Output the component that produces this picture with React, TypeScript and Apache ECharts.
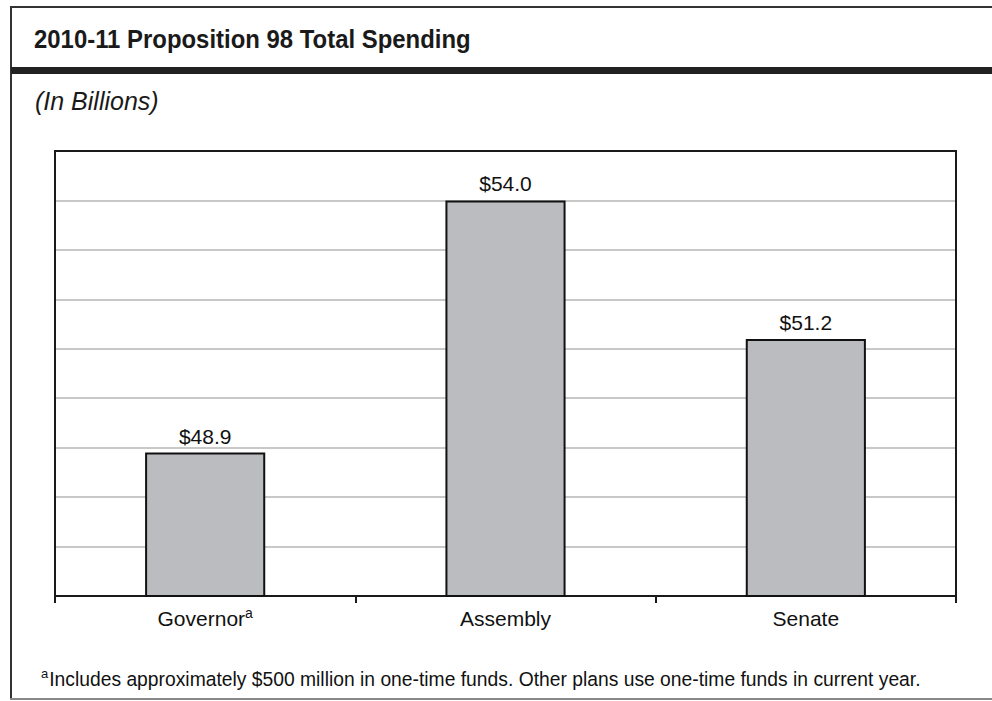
import React, { useEffect, useRef } from "react";
import * as echarts from "echarts";

const categories = ["Governor", "Assembly", "Senate"];
const superscripts = ["a", "", ""];
const values = [48.9, 54.0, 51.2];
const yMin = 46;
const yMax = 55;
const yInterval = 1;
const titleText = "2010-11 Proposition 98 Total Spending";
const subtitleText = "(In Billions)";
const footnoteMark = "a";
const footnoteText = "Includes approximately $500 million in one-time funds. Other plans use one-time funds in current year.";

const FONT = "'Liberation Sans', Arial, Helvetica, sans-serif";

export default function App() {
  const ref = useRef<HTMLDivElement>(null);
  useEffect(() => {
    if (!ref.current) return;
    const chart = echarts.init(ref.current, null, { renderer: "svg" });
    chart.setOption({
      animation: false,
      backgroundColor: "#ffffff",
      textStyle: { fontFamily: FONT },
      grid: {
        left: 55,
        right: 36,
        top: 151,
        bottom: 105,
        show: true,
        borderColor: "#1a1a1a",
        borderWidth: 2,
        backgroundColor: "transparent",
        z: 3,
      },
      xAxis: {
        type: "category",
        data: categories,
        axisLine: { lineStyle: { color: "#1a1a1a", width: 2 } },
        axisTick: { show: true, length: 7, lineStyle: { color: "#1a1a1a", width: 2 } },
        axisLabel: {
          margin: 10,
          color: "#111",
          fontSize: 21,
          fontFamily: FONT,
          formatter: (v: string) => {
            const i = categories.indexOf(v);
            const s = superscripts[i];
            return s ? `{n|${v}}{s|${s}}` : `{n|${v}}`;
          },
          rich: {
            n: { fontSize: 21, fontFamily: FONT, color: "#111", lineHeight: 23, verticalAlign: "bottom" },
            s: { fontSize: 14, fontFamily: FONT, color: "#111", lineHeight: 23, verticalAlign: "top", padding: [0, 0, 7, 0] },
          },
        },
      },
      yAxis: {
        type: "value",
        min: yMin,
        max: yMax,
        interval: yInterval,
        axisLine: { show: false },
        axisTick: { show: false },
        axisLabel: { show: false },
        splitLine: { show: true, lineStyle: { color: "#c8c8c8", width: 2 } },
      },
      series: [
        {
          type: "bar",
          data: values,
          barWidth: "40%",
          z: 4,
          itemStyle: { color: "#bbbcc0", borderColor: "#111", borderWidth: 2 },
          label: {
            show: true,
            position: "top",
            distance: 6,
            color: "#111",
            fontSize: 21,
            fontFamily: FONT,
            formatter: (p: any) => `$${Number(p.value).toFixed(1)}`,
          },
        },
      ],
      graphic: [
        { type: "line", shape: { x1: 11, y1: 7, x2: 992, y2: 7 }, style: { stroke: "#333", lineWidth: 2 } },
        { type: "line", shape: { x1: 11, y1: 6, x2: 11, y2: 700 }, style: { stroke: "#333", lineWidth: 2 } },
        { type: "line", shape: { x1: 10, y1: 699, x2: 992, y2: 699 }, style: { stroke: "#888", lineWidth: 2 } },
        { type: "rect", shape: { x: 11, y: 67, width: 981, height: 7 }, style: { fill: "#222" } },
        {
          type: "text",
          x: 34,
          y: 26,
          scaleX: 0.92,
          style: { text: titleText, font: `bold 26px ${FONT}`, fill: "#1a1a1a" },
        },
        {
          type: "text",
          left: 35,
          top: 88,
          style: { text: subtitleText, font: `italic 25px ${FONT}`, fill: "#1a1a1a" },
        },
        {
          type: "text",
          left: 41,
          top: 667,
          style: {
            text: `{s|${footnoteMark}}{n|${footnoteText}}`,
            rich: {
              s: { fontSize: 13, fontFamily: FONT, fill: "#111", lineHeight: 22, verticalAlign: "top", padding: [0, 1, 8, 0] },
              n: { fontSize: 19.3, fontFamily: FONT, fill: "#111", lineHeight: 22, verticalAlign: "bottom" },
            },
          },
        },
      ],
    });
    return () => chart.dispose();
  }, []);
  return <div ref={ref} style={{ width: 992, height: 701, position: "absolute", left: 0, top: 0 }} />;
}
